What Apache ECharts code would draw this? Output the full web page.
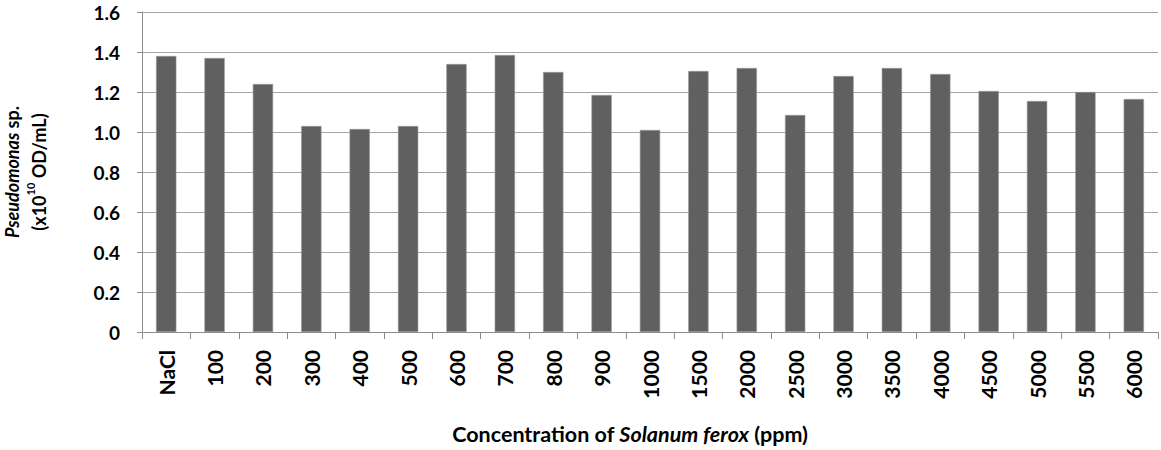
<!DOCTYPE html>
<html>
<head>
    <meta charset="utf-8">
    <script src="https://cdn.jsdelivr.net/npm/echarts@6/dist/echarts.min.js"></script>
    <style>
        body { margin: 0; }
        #chart { width: 1161px; height: 450px; }
    </style>
</head>
<body>
    <div id="chart"></div>
    <script>
        // concentration groups (ppm), first one is the NaCl control
        const categories = ['NaCl', '100', '200', '300', '400', '500', '600', '700', '800', '900', '1000',
            '1500', '2000', '2500', '3000', '3500', '4000', '4500', '5000', '5500', '6000'];
        // Pseudomonas sp. (x10^10 OD/mL)
        const density = [1.38, 1.37, 1.24, 1.03, 1.015, 1.03, 1.34, 1.385, 1.30, 1.185, 1.01,
            1.305, 1.32, 1.085, 1.28, 1.32, 1.29, 1.205, 1.155, 1.20, 1.165];

        const font = 'Lato';
        const chart = echarts.init(document.getElementById('chart'), null, { renderer: 'svg' });
        const option = {
            animation: false,
            grid: { left: 142, right: 3, top: 12, bottom: 118, containLabel: false, outerBoundsMode: 'none' },
            xAxis: {
                type: 'category',
                data: categories,
                axisLine: { lineStyle: { color: '#8c8c8c', width: 1 } },
                axisTick: { show: true, length: 7, lineStyle: { color: '#8c8c8c' } },
                axisLabel: {
                    rotate: 90, margin: 18, color: '#000', fontFamily: font,
                    fontWeight: 'bold', fontSize: 21
                },
                name: '{b|Concentration of }{i|Solanum ferox}{b| (ppm)}',
                nameLocation: 'middle',
                nameGap: 91,
                nameTextStyle: {
                    padding: [0, 40, 0, 0],
                    rich: {
                        b: { fontFamily: font, fontWeight: 'bold', fontSize: 21.5, color: '#000' },
                        i: { fontFamily: font, fontWeight: 'bold', fontStyle: 'italic', fontSize: 21.5, color: '#000' }
                    }
                }
            },
            yAxis: {
                type: 'value',
                min: 0, max: 1.6, interval: 0.2,
                axisLine: { show: true, lineStyle: { color: '#8c8c8c', width: 1 } },
                axisTick: { show: true, length: 5, lineStyle: { color: '#8c8c8c' } },
                splitLine: { lineStyle: { color: '#a6a6a6', width: 1 } },
                axisLabel: {
                    margin: 22, color: '#000', fontFamily: font, fontWeight: 'bold', fontSize: 19,
                    formatter: v => v === 0 ? '0' : v.toFixed(1)
                },
                name: '{i|Pseudomonas}{b| sp.}\n{b|(x10}{s|10}{b| OD/mL)}',
                nameLocation: 'middle',
                nameRotate: 90,
                nameGap: 90,
                nameTextStyle: {
                    lineHeight: 27,
                    rich: {
                        b: { fontFamily: font, fontWeight: 'bold', fontSize: 18, color: '#000', lineHeight: 27 },
                        i: { fontFamily: font, fontWeight: 'bold', fontStyle: 'italic', fontSize: 18, color: '#000', lineHeight: 27 },
                        s: { fontFamily: font, fontWeight: 'bold', fontSize: 11, color: '#000', verticalAlign: 'top', padding: [0, 0, 9, 0] }
                    }
                }
            },
            series: [{
                type: 'bar',
                data: density,
                barWidth: '42%',
                itemStyle: { color: '#606060', borderColor: '#9a9a9a', borderWidth: 0.6 }
            }]
        };
        chart.setOption(option);
    </script>
</body>
</html>
